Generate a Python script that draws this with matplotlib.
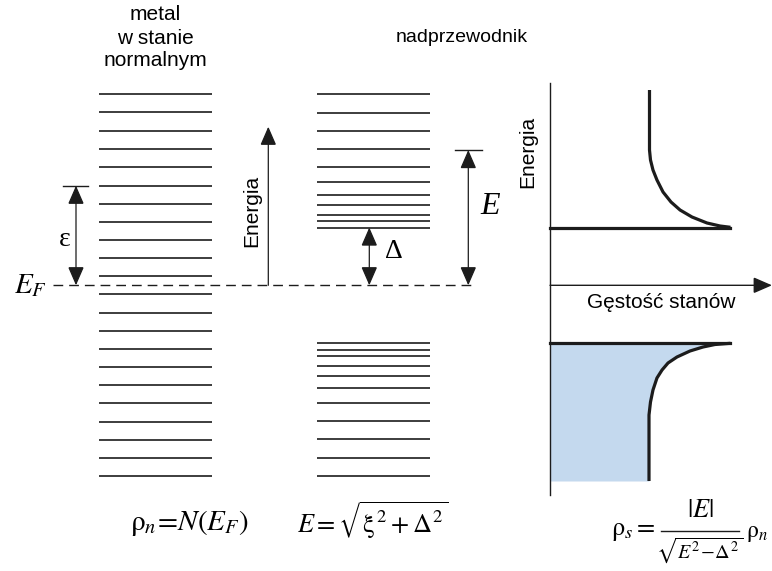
import matplotlib
matplotlib.use("Agg")
import matplotlib.pyplot as plt
from matplotlib.patches import FancyArrowPatch

plt.rcParams['font.family'] = ['Liberation Sans', 'DejaVu Sans']
plt.rcParams['mathtext.fontset'] = 'stix'

# ---------------- data (energies relative to E_F, arbitrary units) ----------------
normal_levels = [191, 173, 154.6, 136.3, 118, 99.6, 81.6, 63.3, 45.3, 27.3, 9.3,
                 -9, -27.4, -45.4, -63.7, -81.7, -99.7, -118, -136.4, -154.4, -172.4, -190.4]
sc_levels = [191, 172.6, 154.3, 136, 118, 103, 90.6, 80.6, 70.6, 64.3, 57.3,
             -57.4, -64.4, -70.7, -80.7, -90.7, -103, -118, -136, -154, -172.4, -190.4]
gap = 57.8            # Delta
eps_value = 99.6      # epsilon arrow
E_value = 135.3       # E arrow
energy_axis_top = 158.6

# density of states (relative to normal-state DOS)
dos_upper_E = [195.3, 135.3, 125.3, 115.3, 105.3, 93.3, 83.3, 75.3, 68.3, 62.3, 59.3, 58.0]
dos_upper_rho = [1.0, 1.0, 1.01, 1.035, 1.075, 1.136, 1.216, 1.307, 1.427, 1.578, 1.709, 1.814]
dos_lower_E = [-58.0, -59.2, -61.7, -65.7, -71.7, -77.7, -84.7, -92.7, -104.7, -116.7, -129.7, -195.7]
dos_lower_rho = [1.814, 1.658, 1.538, 1.407, 1.276, 1.186, 1.126, 1.075, 1.035, 1.01, 0.995, 0.995]

title_normal = ['metal', 'w stanie', 'normalnym']
title_sc = 'nadprzewodnik'
label_energy = 'Energia'
label_dos = 'Gęstość stanów'

# ---------------- figure ----------------
fig = plt.figure(figsize=(7.72, 5.71), dpi=100)
ax = fig.add_axes([0, 0, 1, 1])
ax.set_xlim(0, 772)
ax.set_ylim(-285.7, 285.3)
ax.axis('off')

LINE = '#1c1c1c'
FILL = '#c4d9ee'


def Y(py):
    return 285.3 - py


def arrow(x0, y0, x1, y1, both=False, lw=0.9):
    style = '<|-|>' if both else '-|>'
    p = FancyArrowPatch((x0, y0), (x1, y1),
                        arrowstyle=f'{style},head_length=1.15,head_width=0.5',
                        mutation_scale=10, lw=lw, color=LINE,
                        shrinkA=0, shrinkB=0, joinstyle='miter')
    ax.add_patch(p)


# energy levels
ax.hlines(normal_levels, 99, 212, color=LINE, lw=1.2)
ax.hlines(sc_levels, 316.7, 430, color=LINE, lw=1.2)

# Fermi level (dashed)
ax.plot([53, 476], [0, 0], color=LINE, lw=1.0, ls=(0, (7, 4.3)))

# epsilon arrow
ax.plot([63, 88], [eps_value, eps_value], color=LINE, lw=1.0)
arrow(76, 0, 76, eps_value, both=True)
ax.text(65, Y(239), 'ε', family=['Liberation Serif', 'DejaVu Serif'],
        fontsize=20, ha='center', va='center')

# Energy arrow
arrow(268.3, 0, 268.3, energy_axis_top)
ax.text(252, Y(211), label_energy, rotation=90, fontsize=15, ha='center', va='center')

# Delta arrow
arrow(369.3, 0, 369.3, gap, both=True)
ax.text(394, Y(251), 'Δ', family=['Liberation Serif', 'DejaVu Serif'],
        fontsize=20, ha='center', va='center')

# E arrow
ax.plot([455, 482], [E_value, E_value], color=LINE, lw=1.0)
arrow(468.3, 0, 468.3, E_value, both=True)
ax.text(490, Y(206), 'E', family=['Liberation Serif'], style='italic',
        fontsize=23, ha='center', va='center')

# E_F label
ax.text(30, 0, r'$E_F$', fontsize=21, ha='center', va='center')

# titles
for txt, py in zip(title_normal, [15, 38, 61]):
    ax.text(155.5, Y(py), txt, fontsize=15, ha='center', va='center')
ax.text(461.7, Y(38), title_sc, fontsize=14, ha='center', va='center')

# ---------------- DOS panel ----------------
X0 = 550
SC = 99.5
ax.plot([X0, X0], [Y(82.7), Y(495)], color=LINE, lw=1.0)
arrow(X0, 0, 772, 0, lw=1.0)
ax.text(528, Y(152), label_energy, rotation=90, fontsize=15, ha='center', va='center')
ax.text(661.7, Y(303), label_dos, fontsize=15, ha='center', va='center')

up_x = [X0 + r * SC for r in dos_upper_rho]
lo_x = [X0 + r * SC for r in dos_lower_rho]
ax.fill_betweenx(dos_lower_E, X0, lo_x, color=FILL, lw=0, zorder=1)
ax.plot(up_x, dos_upper_E, color=LINE, lw=2.3, solid_joinstyle='round', solid_capstyle='butt', zorder=3)
ax.plot(lo_x, dos_lower_E, color=LINE, lw=2.3, solid_joinstyle='round', solid_capstyle='butt', zorder=3)
ax.plot([X0, up_x[-1]], [gap, gap], color=LINE, lw=2.3, zorder=3)
ax.plot([X0, lo_x[0]], [-gap, -gap], color=LINE, lw=2.3, zorder=3)

# ---------------- formulas ----------------
ax.text(189, Y(523), r'$\mathrm{\rho}_n\!=\!N(E_F)$', fontsize=21, ha='center', va='center')
ax.text(373, Y(520), r'$E=\sqrt{\mathrm{\xi}^{\,2}+\Delta^{2}}$', fontsize=19, ha='center', va='center')

# rho_s = |E| / sqrt(E^2 - Delta^2) rho_n, built from pieces
ax.text(655, Y(531), r'$\mathrm{\rho}_s=$', fontsize=19, ha='right', va='center')
ax.text(700, Y(510), r'$|E|$', fontsize=19, ha='center', va='center')
ax.plot([661, 739], [Y(531), Y(531)], color=LINE, lw=1.0)
ax.text(700, Y(550), r'$\sqrt{E^2\!-\!\Delta^{\,2}}$', fontsize=14.5, ha='center', va='center')
ax.text(746, Y(533), r'$\mathrm{\rho}_n$', fontsize=17, ha='left', va='center')

fig.savefig('out.png', dpi=100)
